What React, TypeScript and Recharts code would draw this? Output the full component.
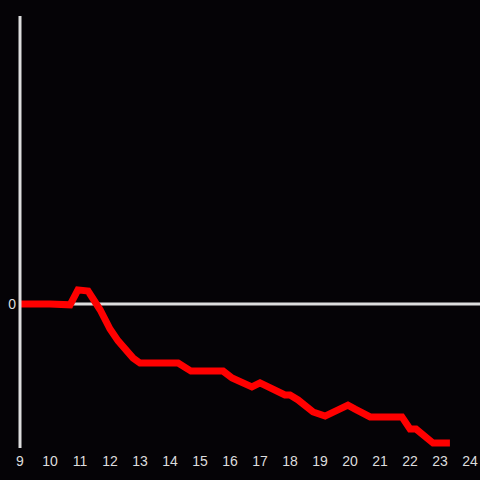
import { LineChart, Line, XAxis, YAxis, ReferenceLine } from 'recharts';

// hour of day
const hours = [
    9, 10, 10.67, 10.93, 11.27, 11.67, 12, 12.27, 12.77, 13, 14.27, 14.7, 15.77, 16.07, 16.73,
    17, 17.83, 18, 18.27, 18.77, 19.17, 19.93, 20.17, 20.67, 21.73, 22, 22.2, 22.77, 23.33,
];
// change vs. start
const change = [
    0, 0, -0.3, 4.9, 4.5, -2, -8.7, -12.8, -18.8, -20.5, -20.5, -23.3, -23.3, -25.7, -28.8,
    -27.4, -31.6, -31.6, -33.3, -37.5, -38.9, -35.1, -36.5, -39.2, -39.2, -43.4, -43.4, -48.3, -48.3,
];
const xTicks = [9, 10, 11, 12, 13, 14, 15, 16, 17, 18, 19, 20, 21, 22, 23, 24];
const yTicks = [0];

const data = hours.map((t, i) => ({ t, v: change[i] }));

const AXIS = '#dddddd';
const tickStyle = { fill: AXIS, fontSize: 14, fontFamily: '"Liberation Sans", Arial, sans-serif' };

export default function App() {
    return (
        <div style={{ position: 'fixed', left: 0, top: 0, width: 480, height: 480, background: '#050306' }}>
            <LineChart width={480} height={480} data={data} margin={{ top: 16, right: 0, bottom: 0, left: 0 }}>
                <XAxis
                    dataKey="t"
                    type="number"
                    domain={[9, 24.333]}
                    ticks={xTicks}
                    axisLine={false}
                    tickLine={false}
                    height={32}
                    tick={tickStyle}
                    interval={0}
                />
                <YAxis
                    type="number"
                    domain={[-50, 100]}
                    ticks={yTicks}
                    width={20}
                    axisLine={{ stroke: AXIS, strokeWidth: 3 }}
                    tickLine={false}
                    tickSize={2}
                    tickMargin={2}
                    tick={tickStyle}
                />
                <ReferenceLine y={0} stroke={AXIS} strokeWidth={3} />
                <Line
                    type="linear"
                    dataKey="v"
                    stroke="#ff0000"
                    strokeWidth={7}
                    dot={false}
                    isAnimationActive={false}
                />
            </LineChart>
        </div>
    );
}
